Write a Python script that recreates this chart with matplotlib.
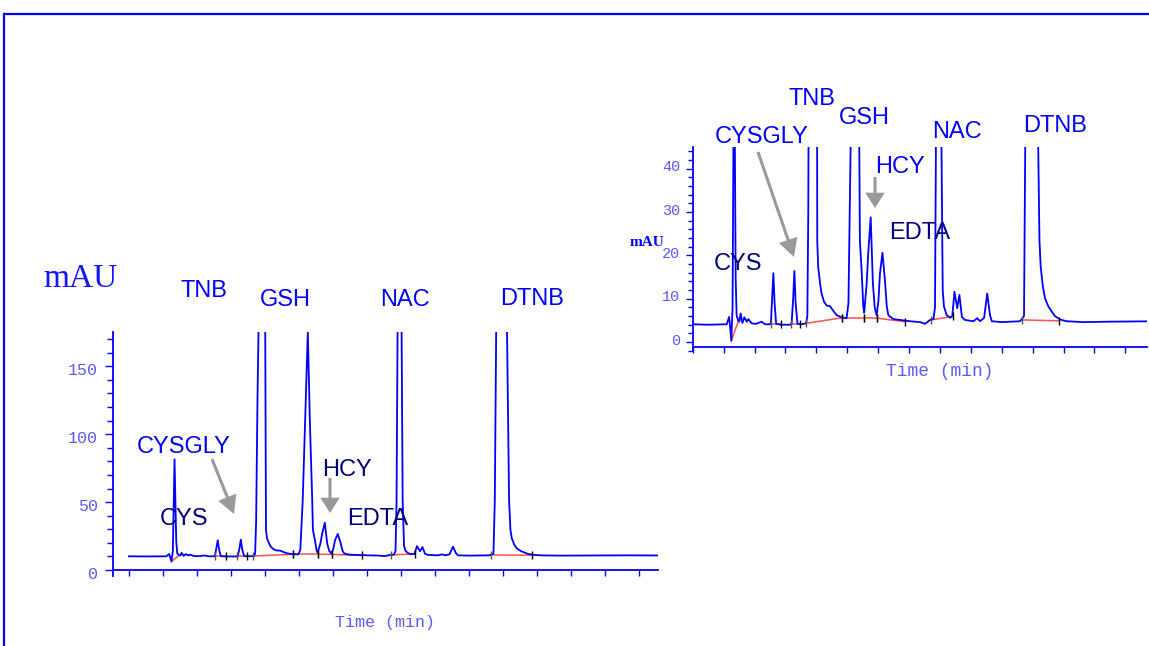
import numpy as np
import matplotlib.pyplot as plt
from matplotlib.lines import Line2D
from matplotlib.patches import FancyArrowPatch, ArrowStyle
from matplotlib.transforms import ScaledTranslation

W, H = 1149, 646

# chromatogram (time in min, signal in mAU)
tiempo = [1.00, 1.50, 2.10, 2.18, 2.25, 2.29, 2.32, 2.34, 2.36, 2.39, 2.42, 2.47,
          2.51, 2.55, 2.61, 2.67, 2.75, 2.80, 2.91, 3.05, 3.23, 3.34, 3.50, 3.53,
          3.57, 3.61, 3.65, 3.70, 3.85, 4.15, 4.20, 4.25, 4.29, 4.33, 4.39, 4.50,
          4.67, 4.71, 4.74, 4.78, 4.84, 4.92, 5.00, 5.02, 5.03, 5.06, 5.12, 5.17,
          5.25, 5.34, 5.44, 5.55, 5.66, 5.82, 5.98, 6.04, 6.11, 6.18, 6.26, 6.32,
          6.39, 6.41, 6.47, 6.52, 6.55, 6.63, 6.68, 6.76, 6.83, 6.89, 6.95, 7.01,
          7.06, 7.14, 7.22, 7.28, 7.33, 7.49, 7.71, 8.03, 8.36, 8.52, 8.68, 8.79,
          8.84, 8.87, 8.90, 8.96, 9.02, 9.05, 9.09, 9.13, 9.22, 9.33, 9.40, 9.47,
          9.56, 9.63, 9.71, 9.81, 10.08, 10.21, 10.30, 10.43, 10.53, 10.62, 10.68,
          11.00, 11.59, 11.65, 11.72, 11.76, 11.80, 11.90, 11.98, 12.06, 12.12,
          12.18, 12.22, 12.26, 12.33, 12.40, 12.51, 12.62, 12.72, 12.89, 13.10,
          13.64, 14.50, 15.69, 16.56]
senal = [4.1, 4.0, 4.1, 5.8, 0.3, 8.0, 50, 75.5, 50, 15, 6.2, 5.0,
         4.7, 6.6, 4.4, 5.7, 4.7, 5.3, 4.3, 4.2, 4.7, 4.1, 4.1, 4.4,
         10.0, 15.9, 9.0, 4.2, 4.0, 4.0, 4.2, 10.0, 16.4, 9.0, 4.2, 4.1,
         4.3, 6.0, 30, 120, 220, 300, 220, 80, 23.5, 17.4, 13.6, 11.2,
         9.3, 8.4, 8.3, 7.2, 6.2, 5.7, 5.5, 9.0, 45, 104, 169, 104,
         45, 23.5, 15.9, 8.2, 6.8, 13.6, 20.5, 28.8, 13.6, 8.0, 6.2, 9.5,
         15.9, 20.6, 14.3, 8.2, 6.2, 5.3, 5.1, 4.8, 4.6, 4.2, 5.1, 5.3,
         8.0, 45, 169, 400, 169, 45, 12, 8.2, 6.2, 5.6, 6.0, 11.6,
         7.8, 10.9, 5.8, 5.1, 4.8, 5.5, 4.8, 5.6, 11.2, 6.2, 4.8,
         4.6, 4.8, 5.3, 6.0, 45, 169, 500, 600, 400, 169,
         45, 23.5, 17.4, 12.8, 10.1, 8.2, 7.0, 6.0, 5.2, 4.8,
         4.6, 4.7, 4.8, 4.7]
desfase_izq = 6.0   # the big panel shows the same run sitting 6 mAU higher

# integration baselines (start / end of each peak)
base_t0 = [2.25, 3.52, 4.17, 4.66, 5.83, 6.55, 6.97, 8.70, 11.66]
base_v0 = [0.3, 4.1, 4.1, 4.3, 5.6, 5.6, 5.5, 5.1, 5.1]
base_t1 = [2.51, 3.85, 4.47, 5.83, 6.55, 6.97, 7.86, 9.41, 12.85]
base_v1 = [5.5, 4.1, 4.1, 5.6, 5.6, 5.5, 4.7, 5.9, 4.9]

fig = plt.figure(figsize=(W / 100, H / 100), dpi=100)

AZUL = '#0000ff'
AZUL_TXT = '#5a5aff'
MARINO = '#00007f'


def px(x0, y0, x1, y1):
    # pixel box -> figure fraction [left, bottom, width, height]
    return [x0 / W, 1 - y1 / H, (x1 - x0) / W, (y1 - y0) / H]


def dibujar_corrida(ax, off):
    t = np.array(tiempo)
    v = np.array(senal) + off
    for i in range(len(base_t0)):
        ax.plot([base_t0[i], base_t1[i]], [base_v0[i] + off, base_v1[i] + off],
                color='#ff3030', lw=1.1, alpha=0.85, zorder=2)
    ax.plot(t, v, color=AZUL, lw=1.3, zorder=3)
    ax.plot(base_t0[1:], np.array(base_v0[1:]) + off, ls='', marker='|',
            ms=6, mew=1, color='#555555', zorder=4)
    ax.plot(base_t1[1:], np.array(base_v1[1:]) + off, ls='', marker='|',
            ms=6, mew=1, color='black', zorder=4)


def ejes(ax, ylo, yhi, xlo, xhi, xspine, mayor, menor, tam, sube, largo, pad):
    ax.set_xlim(xlo, xhi)
    ax.set_ylim(ylo, yhi)
    ax.patch.set_alpha(0)
    for s in ['top', 'right']:
        ax.spines[s].set_visible(False)
    for s in ['left', 'bottom']:
        ax.spines[s].set_color(AZUL)
        ax.spines[s].set_linewidth(1.3)
    ax.spines['bottom'].set_position(('data', xspine))
    ax.set_xticks(np.arange(1, int(xhi) + 1))
    ax.set_xticklabels([])
    ax.set_yticks(np.arange(0, yhi, mayor))
    ax.set_yticks(np.arange(menor * np.ceil(ylo / menor), yhi, menor), minor=True)
    ax.tick_params(axis='x', colors=AZUL, length=4.5, width=1, direction='out')
    ax.tick_params(axis='y', which='major', colors=AZUL, length=largo, width=1,
                   labelcolor=AZUL_TXT, labelsize=tam, pad=pad)
    ax.tick_params(axis='y', which='minor', colors=AZUL, length=largo * 0.75, width=1)
    for lbl in ax.get_yticklabels():
        lbl.set_family('Liberation Mono')
        lbl.set_transform(lbl.get_transform() + ScaledTranslation(0, sube / 100, fig.dpi_scale_trans))


# big panel
ax1 = fig.add_axes(px(113, 332, 658, 576))
dibujar_corrida(ax1, desfase_izq)
ejes(ax1, -4.4, 175.2, 0.53, 16.56, 0, 50, 10, 12, -3, 5.8, 5)

# inset
ax2 = fig.add_axes(px(692.7, 146.7, 1147, 350.7))
dibujar_corrida(ax2, 0)
ejes(ax2, -2.0, 45.1, 1.0, 15.70, -1.15, 10, 2, 11, 3, 5, 4)


def etiqueta(txt, x, y, color=AZUL, size=17):
    fig.text(x / W, 1 - y / H, txt, color=color, fontsize=size, ha='center',
             va='baseline', family='Liberation Sans')


def flecha(x0, y0, x1, y1, cabeza=13):
    estilo = ArrowStyle.Simple(head_length=cabeza, head_width=14, tail_width=2.2)
    fig.patches.append(FancyArrowPatch((x0 / W, 1 - y0 / H), (x1 / W, 1 - y1 / H),
                                       transform=fig.transFigure, arrowstyle=estilo,
                                       mutation_scale=1, color='#999999', lw=0,
                                       shrinkA=0, shrinkB=0))


# labels big panel
fig.text(81 / W, 1 - 287 / H, 'mAU', color='#1515ff', fontsize=24, ha='center',
         va='baseline', family='Liberation Serif')
etiqueta('TNB', 204, 297)
etiqueta('GSH', 285, 306)
etiqueta('NAC', 405, 306)
etiqueta('DTNB', 532, 305)
etiqueta('CYSGLY', 184, 453)
etiqueta('CYS', 184, 525, MARINO)
etiqueta('HCY', 347, 476, MARINO)
etiqueta('EDTA', 378, 525, MARINO)
flecha(212, 459, 234, 514)
flecha(330, 478, 330, 513, 11)
fig.text(385 / W, 1 - 623 / H, 'Time (min)', color=AZUL_TXT, fontsize=12,
         ha='center', va='center', family='Liberation Mono')

# labels inset
etiqueta('TNB', 812, 105)
etiqueta('GSH', 864, 124)
etiqueta('CYSGLY', 762, 143)
etiqueta('NAC', 957, 138)
etiqueta('DTNB', 1055, 132)
etiqueta('HCY', 900, 173)
etiqueta('EDTA', 920, 239, MARINO)
etiqueta('CYS', 738, 270, MARINO)
flecha(758, 152, 794, 257)
flecha(875, 177, 875, 208, 11)
fig.text(647 / W, 1 - 246 / H, 'mAU', color=AZUL, fontsize=11, ha='center',
         va='baseline', family='Liberation Serif', weight='bold')
fig.text(940 / W, 1 - 371 / H, 'Time (min)', color=AZUL_TXT, fontsize=13,
         ha='center', va='center', family='Liberation Mono')

# outer frame (top and left edges only)
fig.add_artist(Line2D([4 / W, 1], [1 - 14 / H, 1 - 14 / H], transform=fig.transFigure,
                      color=AZUL, lw=1.6))
fig.add_artist(Line2D([4 / W, 4 / W], [1 - 14 / H, 0], transform=fig.transFigure,
                      color=AZUL, lw=1.6))

fig.savefig('out.png', dpi=100)
